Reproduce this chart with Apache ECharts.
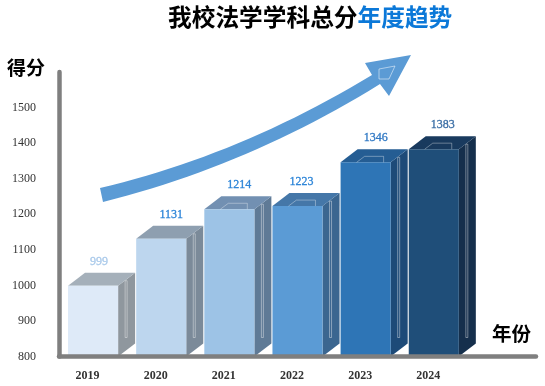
<!DOCTYPE html>
<html>
<head>
<meta charset="utf-8">
<style>html,body{margin:0;padding:0;background:#fff}#chart{width:545px;height:386px}</style>
<script src="https://cdn.jsdelivr.net/npm/echarts@6/dist/echarts.min.js"></script>
</head>
<body>
<div id="chart"></div>
<script>
var years = ['2019', '2020', '2021', '2022', '2023', '2024', ''];
var scores = [999, 1131, 1214, 1223, 1346, 1383];
var yTicks = [800, 900, 1000, 1100, 1200, 1300, 1400, 1500];

var frontColors = ['#deeaf8', '#bdd6ee', '#9dc3e6', '#5b9bd5', '#2e75b6', '#1f4e79'];
var sideColors = ['#8f979e', '#7b8a99', '#5f7a96', '#3b6690', '#1d4a78', '#152f4c'];
var topColors = ['#a5b0ba', '#8e9fb0', '#7290b2', '#4577a8', '#255d93', '#193a5e'];
var labelColors = ['#a9c9ea', '#2f86d8', '#2f86d8', '#2f86d8', '#2f78c4', '#3a6ea5'];
var labelShift = [6, 10, 10, 4, 10, 9];

var chart = echarts.init(document.getElementById('chart'));
var DX = 17, DY = 13; // 立体厚度

function renderBar(params, api) {
  var i = params.dataIndex;
  var top = api.coord([api.value(0), api.value(1)]);
  var bottom = api.coord([api.value(0), 800]);
  var w = api.size([1, 0])[0] * 0.735;
  var x0 = top[0] - w / 2, x1 = top[0] + w / 2, y0 = top[1], y1 = bottom[1];
  var children = [
    { type: 'polygon', shape: { points: [[x1, y0], [x1 + DX, y0 - DY], [x1 + DX, y1 - DY], [x1, y1]] }, style: { fill: sideColors[i] } },
    { type: 'polygon', shape: { points: [[x0, y0], [x0 + DX, y0 - DY], [x1 + DX, y0 - DY], [x1, y0]] }, style: { fill: topColors[i] } },
    { type: 'rect', shape: { x: x0, y: y0, width: w, height: y1 - y0 }, style: { fill: frontColors[i] } },
    // 侧面的细线
    { type: 'rect', shape: { x: x1 + 7, y: y0 - 5, width: 2, height: y1 - y0 - 14 }, style: { fill: 'none', stroke: 'rgba(255,255,255,0.4)', lineWidth: 1 } },
    { type: 'text', x: top[0] + labelShift[i], y: y0 - 24, style: { text: String(api.value(1)), fill: labelColors[i], fontFamily: 'Liberation Serif', fontSize: 12, align: 'center', verticalAlign: 'middle', stroke: labelColors[i], lineWidth: 0.3 } }
  ];
  if (i >= 2) {
    // 顶面的细线
    children.push({ type: 'polyline', shape: { points: [[x0 + 16, y0], [x0 + 24, y0 - 6], [x0 + 43, y0 - 6], [x0 + 43, y0]] }, style: { fill: 'none', stroke: 'rgba(255,255,255,0.35)', lineWidth: 1 } });
  }
  return { type: 'group', children: children };
}

// 二次曲线取点
function curve(p0, c, p1) {
  var pts = [];
  for (var k = 0; k <= 24; k++) {
    var t = k / 24, s = 1 - t;
    pts.push([s * s * p0[0] + 2 * s * t * c[0] + t * t * p1[0], s * s * p0[1] + 2 * s * t * c[1] + t * t * p1[1]]);
  }
  return pts;
}
var arrowPoints = curve([100, 188], [240, 155], [372, 75])
  .concat([[365, 63], [411, 55], [389, 96]])
  .concat(curve([380, 84], [250, 165], [103, 202]));

var option = {
  backgroundColor: '#fff',
  animation: false,
  grid: { left: 59, top: 72, width: 477, height: 284.5 },
  xAxis: {
    type: 'category',
    data: years,
    z: 5,
    axisLine: { lineStyle: { color: '#7f7f7f', width: 4.5, cap: 'round' } },
    axisTick: { show: false },
    axisLabel: { color: '#333', fontFamily: 'Liberation Serif', fontWeight: 'bold', fontSize: 12, margin: 13, padding: [0, 11, 0, 0] }
  },
  yAxis: {
    type: 'value',
    min: 800,
    max: 1600,
    interval: 100,
    z: 5,
    splitLine: { show: false },
    axisLine: { show: true, lineStyle: { color: '#7f7f7f', width: 4.5, cap: 'round' } },
    axisTick: { show: false },
    axisLabel: {
      customValues: yTicks,
      color: '#333',
      fontFamily: 'Liberation Serif',
      fontSize: 12,
      margin: 23,
      formatter: function (v) { return String(v); }
    }
  },
  series: [{
    type: 'custom',
    renderItem: renderBar,
    encode: { x: 0, y: 1 },
    data: scores.map(function (v, i) { return [i, v]; }),
    z: 2
  }],
  graphic: [
    // 趋势箭头
    { type: 'polygon', shape: { points: arrowPoints }, style: { fill: '#5b9bd5' }, z: 3 },
    { type: 'polygon', shape: { points: [[379, 69], [395, 66], [389, 79], [379, 79]] }, style: { fill: 'none', stroke: 'rgba(255,255,255,0.5)', lineWidth: 1 }, z: 4 },
    { type: 'text', left: 168, top: 5, style: { rich: { a: { fill: '#000', font: 'bold 23.7px "Noto Sans CJK SC"' }, b: { fill: '#0b78d8', font: 'bold 23.7px "Noto Sans CJK SC"' } }, text: '{a|我校法学学科总分}{b|年度趋势}' } },
    { type: 'text', left: 7, top: 58, style: { text: '得分', fill: '#000', font: 'bold 19px "Noto Sans CJK SC"' } },
    { type: 'text', left: 492, top: 324, style: { text: '年份', fill: '#000', font: 'bold 19.5px "Noto Sans CJK SC"' } }
  ]
};
chart.setOption(option);
</script>
</body>
</html>
